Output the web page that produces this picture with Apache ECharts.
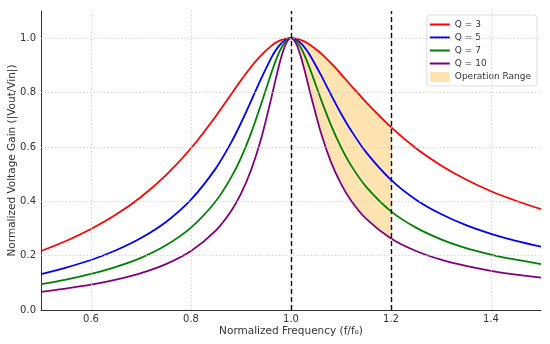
<!DOCTYPE html>
<html>
<head>
<meta charset="utf-8">
<script src="https://cdn.jsdelivr.net/npm/echarts@6/dist/echarts.min.js"></script>
<style>html,body{margin:0;padding:0;background:#fff}#c{width:550px;height:344px}</style>
</head>
<body>
<div id="c"></div>
<script>
var freq = [0.5,0.55,0.6,0.65,0.7,0.75,0.8,0.85,0.88,0.9,0.92,0.94,0.96,0.97,0.98,0.99,1.0,1.01,1.02,1.03,1.04,1.06,1.08,1.1,1.12,1.15,1.2,1.25,1.3,1.35,1.4,1.45,1.5];
var q3 = [0.217,0.254,0.298,0.351,0.416,0.496,0.595,0.714,0.793,0.845,0.894,0.937,0.971,0.984,0.993,0.998,1.0,0.998,0.993,0.985,0.973,0.944,0.908,0.868,0.826,0.765,0.673,0.595,0.532,0.480,0.437,0.402,0.371];
var q5 = [0.132,0.156,0.184,0.220,0.265,0.324,0.406,0.522,0.615,0.688,0.768,0.850,0.926,0.957,0.980,0.995,1.0,0.995,0.981,0.959,0.931,0.864,0.792,0.723,0.661,0.581,0.479,0.406,0.353,0.312,0.280,0.254,0.233];
var q7 = [0.095,0.112,0.133,0.159,0.192,0.238,0.303,0.401,0.487,0.560,0.650,0.756,0.868,0.920,0.962,0.990,1.0,0.990,0.964,0.924,0.877,0.775,0.680,0.599,0.532,0.454,0.363,0.303,0.260,0.228,0.204,0.185,0.169];
var q10 = [0.067,0.079,0.093,0.112,0.136,0.169,0.217,0.293,0.363,0.428,0.514,0.628,0.775,0.854,0.927,0.980,1.0,0.981,0.930,0.861,0.787,0.651,0.544,0.464,0.403,0.336,0.263,0.217,0.185,0.162,0.144,0.130,0.119];
var seriesNames = ['Q = 3','Q = 5','Q = 7','Q = 10'];
var bandName = 'Operation Range';
var bandRange = [1.0, 1.2];
var markerLines = [1.0, 1.2];
var xTicks = [0.6, 0.8, 1.0, 1.2, 1.4];
var yTicks = [0.0, 0.2, 0.4, 0.6, 0.8, 1.0];

var colors = ['#ff0000','#0000ff','#008000','#800080'];
var values = [q3, q5, q7, q10];
var FONT = 'DejaVu Sans';
var BAND_COLOR = 'rgba(255,165,0,0.3)';

function pairs(arr){ return freq.map(function(f,i){ return [f, arr[i]]; }); }
var bandUpper = [], bandLower = [];
freq.forEach(function(f,i){
  if (f >= bandRange[0] - 1e-9 && f <= bandRange[1] + 1e-9) {
    bandUpper.push([f, q3[i]]);
    bandLower.push([f, q10[i]]);
  }
});

var gridStyle = { color: '#cccccc', type: [1.5, 2], width: 0.8 };
var series = [
  { name: bandName, type: 'custom', z: 1, silent: true,
    itemStyle: { color: BAND_COLOR },
    data: [[bandRange[0], 0]],
    renderItem: function(params, api){
      var pts = bandUpper.map(function(p){ return api.coord(p); })
        .concat(bandLower.slice().reverse().map(function(p){ return api.coord(p); }));
      return { type: 'polygon', shape: { points: pts }, style: { fill: BAND_COLOR } };
    }
  },
  { name: '_grid', type: 'line', data: [], silent: true, z: 0,
    markLine: { symbol: 'none', silent: true, label: { show: false }, lineStyle: gridStyle,
      data: xTicks.map(function(x){ return { xAxis: x }; })
        .concat(yTicks.slice(1).map(function(y){ return { yAxis: y }; })) } }
];
values.forEach(function(v, k){
  var s = { name: seriesNames[k], type: 'line', data: pairs(v), symbol: 'none', smooth: 0.3,
    lineStyle: { color: colors[k], width: 1.8 }, itemStyle: { color: colors[k] }, z: 3 };
  if (k === 0) {
    s.markLine = { symbol: 'none', silent: true, label: { show: false },
      lineStyle: { color: '#000', type: [5, 3], width: 1.4 },
      data: markerLines.map(function(x){ return { xAxis: x }; }), z: 5 };
  }
  series.push(s);
});

var legendIcon = 'path://M0,0H20V2H0Z';
var chart = echarts.init(document.getElementById('c'), null, { renderer: 'canvas' });
chart.setOption({
  animation: false,
  textStyle: { fontFamily: FONT },
  grid: { left: 41, right: 9, top: 11, bottom: 34, outerBoundsMode: 'none', containLabel: false },
  legend: {
    orient: 'vertical', right: 13, top: 15,
    itemWidth: 20, itemHeight: 10, itemGap: 4,
    padding: [5, 6, 4, 3],
    borderColor: '#dddddd', borderWidth: 1, borderRadius: 3,
    textStyle: { fontFamily: FONT, fontSize: 9, color: '#333' },
    data: seriesNames.map(function(n){ return { name: n, icon: legendIcon }; })
      .concat([{ name: bandName, icon: 'rect', itemStyle: { color: BAND_COLOR } }])
  },
  xAxis: {
    type: 'value', min: 0.5, max: 1.5,
    name: 'Normalized Frequency (f/f\u2080)', nameLocation: 'middle', nameGap: 16,
    nameMoveOverlap: false,
    nameTextStyle: { fontFamily: FONT, fontSize: 10.5, color: '#333' },
    axisLine: { show: true, onZero: false, lineStyle: { color: '#333', width: 1 } },
    axisTick: { show: false, customValues: xTicks },
    axisLabel: { customValues: xTicks, fontSize: 10, color: '#333', margin: 4,
      formatter: function(v){ return v.toFixed(1); } },
    splitLine: { show: false }
  },
  yAxis: {
    type: 'value', min: 0, max: 1.1,
    name: 'Normalized Voltage Gain (|Vout/Vin|)', nameLocation: 'middle', nameGap: 23,
    nameMoveOverlap: false,
    nameTextStyle: { fontFamily: FONT, fontSize: 10.5, color: '#333' },
    axisLine: { show: true, onZero: false, lineStyle: { color: '#333', width: 1 } },
    axisTick: { show: false, customValues: yTicks },
    axisLabel: { customValues: yTicks, fontSize: 10, color: '#333', margin: 5,
      formatter: function(v){ return v.toFixed(1); } },
    splitLine: { show: false }
  },
  series: series
});
</script>
</body>
</html>
